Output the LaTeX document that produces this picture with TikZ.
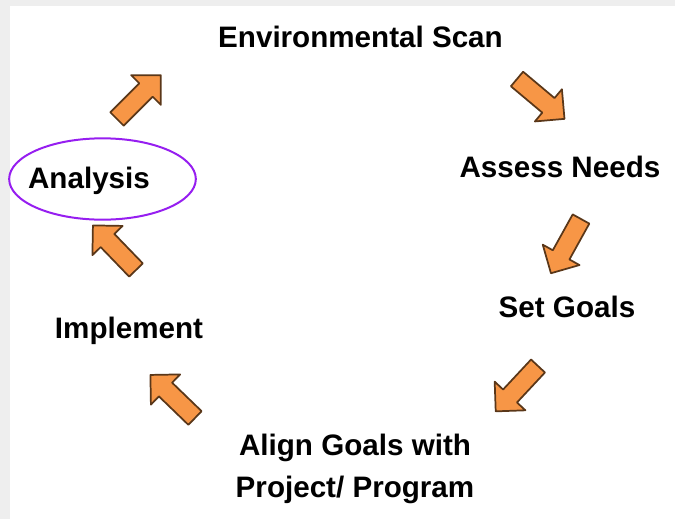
\documentclass[tikz,border=0pt]{standalone}
\usepackage{fontspec}
\setmainfont{Liberation Sans}
\usetikzlibrary{shapes.geometric}

\definecolor{arroworange}{RGB}{247,150,70}
\definecolor{arrowedge}{RGB}{90,55,25}
\definecolor{ringviolet}{RGB}{150,30,240}
\definecolor{framegray}{RGB}{238,238,238}

\tikzset{
    steplabel/.style={
        font=\bfseries\fontsize{22.2}{31.5}\selectfont,
        inner sep=0pt,
        anchor=base
    },
    blockarrow/.pic={
        \draw[
            line width=1.3pt,
            line join=round,
            draw=arrowedge,
            fill=arroworange
        ] (0,-9.5) -- (41,-9.5) -- (41,-21) -- (62,0) -- (41,21) -- (41,9.5) -- (0,9.5) -- cycle;
    }
}

\begin{document}
\begin{tikzpicture}[x=0.75pt, y=0.75pt]
                \useasboundingbox (0,0) rectangle (675,-519);

                % frame bands
                \fill[framegray] (0,0) rectangle (675,-6);
                \fill[framegray] (0,0) rectangle (10,-519);

                % steps
                \node[steplabel] (scan) at (360.5,-47.5) {Environmental Scan};
                \node[steplabel] (needs) at (560,-177.5) {Assess Needs};
                \node[steplabel] (goals) at (567,-317) {Set Goals};
                \node[steplabel] (alignA) at (355,-455) {Align Goals with};
                \node[steplabel] (alignB) at (355,-497) {Project/ Program};
                \node[steplabel] (implement) at (129,-338) {Implement};
                \node[steplabel] (analysis) at (89,-188) {Analysis};

                \node[
                    ellipse,
                    draw=ringviolet,
                    line width=1.5pt,
                    minimum width=140pt,
                    minimum height=61pt
                ] (ring) at (102.5,-179) {};

                % arrows between the steps
                \pic[rotate=45] at (117,-119) {blockarrow};
                \pic[rotate=-40] at (517,-79) {blockarrow};
                \pic[rotate=-119] at (581,-219) {blockarrow};
                \pic[rotate=-133] at (538,-366) {blockarrow};
                \pic[rotate=136] at (195,-418) {blockarrow};
                \pic[rotate=134] at (136,-270) {blockarrow};

\end{tikzpicture}
\end{document}
